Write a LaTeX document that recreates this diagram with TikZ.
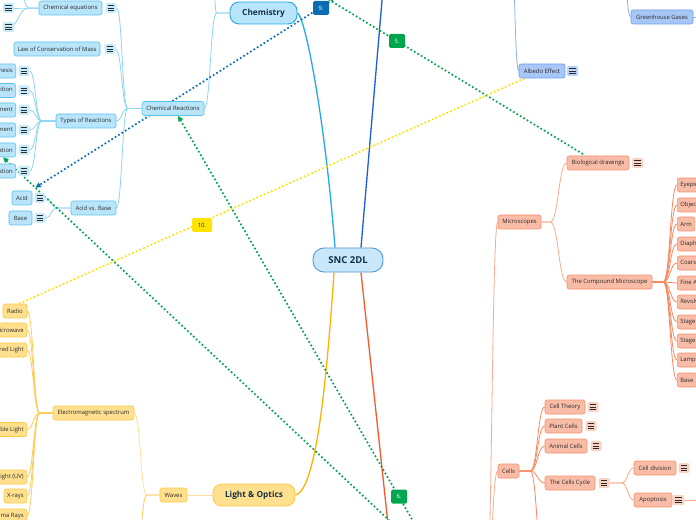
\documentclass[tikz,border=0pt]{standalone}
\usepackage{fontspec}
\setmainfont{Open Sans}
\usetikzlibrary{arrows.meta,calc}
\pgfdeclarelayer{bg}
\pgfdeclarelayer{rel}
\pgfsetlayers{bg,rel,main}
\definecolor{chemfill}{HTML}{B9E5FA}
\definecolor{chemdraw}{HTML}{5CC2EE}
\definecolor{chemline}{HTML}{8DD4F3}
\definecolor{chemmain}{HTML}{22A9EA}
\definecolor{chemicon}{HTML}{C6EBFB}
\definecolor{sncfill}{HTML}{C8E7FA}
\definecolor{sncdraw}{HTML}{4E9CD7}
\definecolor{biofill}{HTML}{F9BDA7}
\definecolor{biodraw}{HTML}{F4916F}
\definecolor{bioline}{HTML}{FBAA8E}
\definecolor{biofork}{HTML}{FC875E}
\definecolor{biomain}{HTML}{F35A2C}
\definecolor{bioicon}{HTML}{FAD2C3}
\definecolor{litfill}{HTML}{FFE08E}
\definecolor{litdraw}{HTML}{FFC945}
\definecolor{litline}{HTML}{FFE09A}
\definecolor{litfork}{HTML}{FFCB55}
\definecolor{litmain}{HTML}{FFB300}
\definecolor{climfill}{HTML}{A9C7F6}
\definecolor{climdraw}{HTML}{6E9EEA}
\definecolor{climline}{HTML}{8DB3EF}
\definecolor{climmain}{HTML}{1D5DD6}
\definecolor{climicon}{HTML}{B7D1F8}
\definecolor{relblue}{HTML}{0A6DB3}
\definecolor{relgreen}{HTML}{00A550}
\definecolor{relyellow}{HTML}{FFE400}
\definecolor{txtc}{HTML}{2B2B2B}
\definecolor{cnavy}{HTML}{12304A}
\newcommand\subfnt{\fontsize{5.9bp}{7bp}\selectfont}
\newcommand\mainfnt{\bfseries\fontsize{8.3bp}{10bp}\selectfont}
\newcommand\rootfnt{\bfseries\fontsize{9.5bp}{11bp}\selectfont}
\tikzset{
  topic/.style={rounded corners=2.2bp, line width=0.6bp, minimum height=14bp, inner xsep=3bp, inner ysep=0bp, font=\subfnt, text=txtc},
  chemT/.style={topic, fill=chemfill, draw=chemdraw},
  bioT/.style={topic, fill=biofill, draw=biodraw},
  litT/.style={topic, fill=litfill, draw=litdraw},
  climT/.style={topic, fill=climfill, draw=climdraw},
  mainT/.style={rounded corners=9bp, line width=0.9bp, minimum height=22bp, inner sep=0bp, font=\mainfnt, text=cnavy},
  icn/.style={minimum width=11bp, minimum height=10bp, inner sep=0bp, rounded corners=1.5bp, fill=#1,
    path picture={\foreach \dy in {-2.4bp,0bp,2.4bp} {\draw[line width=0.75bp, draw=txtc] ([xshift=-3.3bp,yshift=\dy]path picture bounding box.center) -- ([xshift=3.3bp,yshift=\dy]path picture bounding box.center);}}},
  brfork/.style={to path={let \p1=(\tikztostart), \p2=(\tikztotarget), \n1={#1}, \n2={(\x2-\x1-(\n1))/2} in -- ({\x1+(\n1)},\y1) .. controls ({\x1+(\n1)+(\n2)},\y1) and ({\x2-(\n2)},\y2) .. (\p2)}},
  lnk/.style={line width=0.8bp, draw=#1},
  rlink/.style={line width=1.7bp, dash pattern=on 1.7bp off 2.3bp, draw=#1},
  rtip/.style={-{Triangle[length=5.5bp,width=5bp]}},
  rlbl/.style={fill=#1, rounded corners=1.5bp, minimum width=16bp, minimum height=14bp, inner sep=0bp, font=\subfnt, text=white},
}
\begin{document}
\begin{tikzpicture}[x=1bp,y=-1bp]
\useasboundingbox (0,0) rectangle (696,520);
% root and main topics
\node[mainT, rounded corners=11bp, fill=sncfill, draw=sncdraw, minimum width=70bp, minimum height=24bp, font=\rootfnt] (snc) at (348,260) {SNC 2DL};
\node[mainT, fill=chemfill, draw=chemmain, minimum width=67bp] (chem) at (263.5,13) {Chemistry};
\node[mainT, fill=litfill, draw=litdraw, minimum width=82bp] (lo) at (254,495) {Light \& Optics};
% chemistry
\node[chemT, minimum width=62bp] (cr) at (173,108.5) {Chemical Reactions};
\node[chemT, minimum width=63bp] (ceq) at (70.5,8) {Chemical equations};
\node[icn=chemicon] (ceqi) at (111,8) {};
\node[icn=chemicon] (ic1) at (8.5,8) {};
\node[icn=chemicon] (ic2) at (8.5,27) {};
\node[chemT, minimum width=86bp] (law) at (57,49) {Law of Conservation of Mass};
\node[icn=chemicon] (lawi) at (110,49) {};
\node[chemT, minimum width=60bp] (types) at (86,121) {Types of Reactions};
\node[chemT, minimum width=45bp] (avb) at (93.5,208) {Acid vs. Base};
\node[chemT, anchor=east] (syn) at (16,71) {Synthesis};
\node[icn=chemicon] (syni) at (24,71) {};
\node[chemT, anchor=east] (dec) at (16,90.5) {Decomposition};
\node[icn=chemicon] (deci) at (24,90.5) {};
\node[chemT, anchor=east] (sdisp) at (16,110) {Single Displacement};
\node[icn=chemicon] (sdispi) at (24,110) {};
\node[chemT, anchor=east] (ddisp) at (16,130) {Double Displacement};
\node[icn=chemicon] (ddispi) at (24,130) {};
\node[chemT, anchor=east] (neut) at (16,150) {Neutralization};
\node[icn=chemicon] (neuti) at (24,150) {};
\node[chemT, anchor=east] (comb) at (16,171) {Combustion};
\node[icn=chemicon] (combi) at (24,171) {};
\node[chemT, minimum width=20bp] (acid) at (22,198) {Acid};
\node[icn=chemicon] (acidi) at (40,198) {};
\node[chemT, minimum width=23bp] (base) at (20.5,218) {Base};
\node[icn=chemicon] (basei) at (40,218) {};
% climate
\node[climT, minimum width=46bp] (albedo) at (542,71) {Albedo Effect};
\node[icn=climicon] (albedoi) at (572.5,71) {};
\node[climT, minimum width=62bp] (ghg) at (662,17) {Greenhouse Gases};
% biology
\node[bioT, minimum width=43bp] (micro) at (519.5,222) {Microscopes};
\node[bioT, minimum width=62bp] (biod) at (598,163) {Biological drawings};
\node[icn=bioicon] (biodi) at (637.5,163) {};
\node[bioT, minimum width=85bp] (tcm) at (609.5,282) {The Compound Microscope};
\node[bioT, anchor=west] (p1) at (677,185) {Eyepiece};
\node[bioT, anchor=west] (p2) at (677,205) {Objective Lens};
\node[bioT, anchor=west] (p3) at (677,224) {Arm};
\node[bioT, anchor=west] (p4) at (677,244) {Diaphragm};
\node[bioT, anchor=west] (p5) at (677,263) {Coarse Adjustment};
\node[bioT, anchor=west] (p6) at (677,283) {Fine Adjustment};
\node[bioT, anchor=west] (p7) at (677,302) {Revolving Nosepiece};
\node[bioT, anchor=west] (p8) at (677,322) {Stage};
\node[bioT, anchor=west] (p9) at (677,341) {Stage Clips};
\node[bioT, anchor=west] (p10) at (677,360) {Lamp};
\node[bioT, anchor=west] (p11) at (677,380) {Base};
\node[bioT, minimum width=21bp] (cells) at (508.5,471) {Cells};
\node[bioT, minimum width=40bp] (ctheory) at (565,407) {Cell Theory};
\node[icn=bioicon] (ctheoryi) at (593,407) {};
\node[bioT, minimum width=37bp] (plant) at (563.5,426) {Plant Cells};
\node[icn=bioicon] (planti) at (591,426) {};
\node[bioT, minimum width=42bp] (animal) at (566,446) {Animal Cells};
\node[icn=bioicon] (animali) at (596,446) {};
\node[bioT, minimum width=50bp] (cycle) at (570,483) {The Cells Cycle};
\node[icn=bioicon] (cyclei) at (604,483) {};
\node[bioT, minimum width=42bp] (cdiv) at (655,468) {Cell division};
\node[icn=bioicon] (cdivi) at (684,468) {};
\node[bioT, minimum width=38bp] (apop) at (653,500) {Apoptosis};
\node[icn=bioicon] (apopi) at (678.5,500) {};
% light
\node[litT, minimum width=27bp] (waves) at (173.5,495) {Waves};
\node[litT, minimum width=81bp] (ems) at (93.5,413) {Electromagnetic spectrum};
\node[litT, minimum width=24bp] (radio) at (15,311) {Radio};
\node[litT, anchor=east] (mw) at (27,330) {Microwave};
\node[litT, anchor=east] (ir) at (27,350) {Infrared Light};
\node[litT, anchor=east] (vis) at (27,429.5) {Visible Light};
\node[litT, anchor=east] (uv) at (27,477) {Ultraviolet Light (UV)};
\node[litT, anchor=east] (xr) at (27,496) {X-rays};
\node[litT, anchor=east] (gam) at (27,516) {Gamma Rays};
% free ends
\coordinate (chemup) at (212,-40);
\coordinate (cequp) at (16,-30);
\coordinate (climtop) at (388,-70);
\coordinate (biotop) at (394,580);
\coordinate (climA) at (495,-80);
\coordinate (climB) at (600,-40);
\coordinate (ghgR) at (730,17);
\coordinate (bioR) at (470,600);
\coordinate (cellsdown) at (545,590);
\coordinate (apR) at (720,500);
\coordinate (wavedown) at (134,590);
\coordinate (r9s) at (353,-13);
\coordinate (r6s) at (424,540);
\coordinate (rBs) at (410,540);
\coordinate (r5s) at (308,-13);
\begin{pgfonlayer}{bg}
\fill[white] (0,0) rectangle (696,520);
\draw[line width=1.3bp, draw=chemmain] ([shift={(-13,0)}]snc.north) .. controls +(-10,-128) and +(8,4) .. (chem.east);
\draw[line width=1.3bp, draw=climmain] ([shift={(13,0)}]snc.north) -- (climtop);
\draw[line width=1.3bp, draw=litmain] ([shift={(-14,0)}]snc.south) .. controls +(-8,118) and +(20,-5) .. (lo.east);
\draw[line width=1.3bp, draw=biomain] ([shift={(13,0)}]snc.south) -- (biotop);
% chemistry
\draw[lnk=chemline] (chem.west) to[brfork=-13bp] (cr.east);
\draw[lnk=chemline] (chem.west) to[brfork=-13bp] (chemup);
\foreach \t in {ceqi,lawi,types,avb} \draw[lnk=chemline] (cr.west) to[brfork=-14bp] (\t.east);
\foreach \t in {ic1,ic2,cequp} \draw[lnk=chemline] (ceq.west) to[brfork=-10bp] (\t);
\foreach \t in {syni,deci,sdispi,ddispi,neuti,combi} \draw[lnk=chemline] (types.west) to[brfork=-14bp] (\t.east);
\foreach \t in {acidi,basei} \draw[lnk=chemline] (avb.west) to[brfork=-14bp] (\t.east);
% climate
\draw[lnk=climline] (climA) to[brfork=15bp] (albedo.west);
\draw[lnk=climline] (climB) to[brfork=22bp] (ghg.west);
\draw[lnk=climline] (ghg.east) -- (ghgR);
% biology
\foreach \t in {micro,cells} \draw[lnk=bioline] (bioR) to[brfork=16bp] (\t.west);
\foreach \t in {biod,tcm} \draw[lnk=bioline] (micro.east) to[brfork=9bp] (\t.west);
\foreach \t in {p1,p2,p3,p4,p5,p6,p7,p8,p9,p10,p11} \draw[lnk=biofork] (tcm.east) to[brfork=11bp] (\t.west);
\foreach \t in {ctheory,plant,animal,cycle} \draw[lnk=biofork] (cells.east) to[brfork=11bp] (\t.west);
\draw[lnk=biofork] (cells.east) to[brfork=11bp] (cellsdown);
\foreach \t in {cdiv,apop} \draw[lnk=bioline] (cyclei.east) to[brfork=12bp] (\t.west);
\draw[lnk=bioline] (apopi.east) -- (apR);
% light
\draw[lnk=litline] (lo.west) -- (waves.east);
\draw[lnk=litline] (waves.west) to[brfork=-13bp] (ems.east);
\draw[lnk=litfork] (waves.west) to[brfork=-13bp] (wavedown);
\foreach \t in {radio,mw,ir,vis,uv,xr,gam} \draw[lnk=litfork] (ems.west) to[brfork=-13bp] (\t.east);
\end{pgfonlayer}
\begin{pgfonlayer}{rel}
\draw[rlink=relblue, rtip] (r9s) -- ([shift={(3,-3)}]acid.north east);
\draw[rlink=relgreen, rtip] (r6s) -- ([shift={(5,0)}]cr.south);
\draw[rlink=relgreen, rtip] (rBs) -- ([shift={(-13,0)}]neut.south east);
\draw[rlink=relgreen] (r5s) -- ([shift={(-14,-1)}]biod.north);
\draw[rlink=relyellow, rtip] ([shift={(6,0)}]albedo.south west) -- (radio.west);
\end{pgfonlayer}
\node[rlbl=relblue] (l9) at (321,8) {9.};
\node[rlbl=relgreen] (l5) at (397,41) {5.};
\node[rlbl=relgreen] (l6) at (399,496.5) {6.};
\node[rlbl=relyellow, text=txtc, minimum width=20bp] (l10) at (202,225) {10.};
\end{tikzpicture}
\end{document}
